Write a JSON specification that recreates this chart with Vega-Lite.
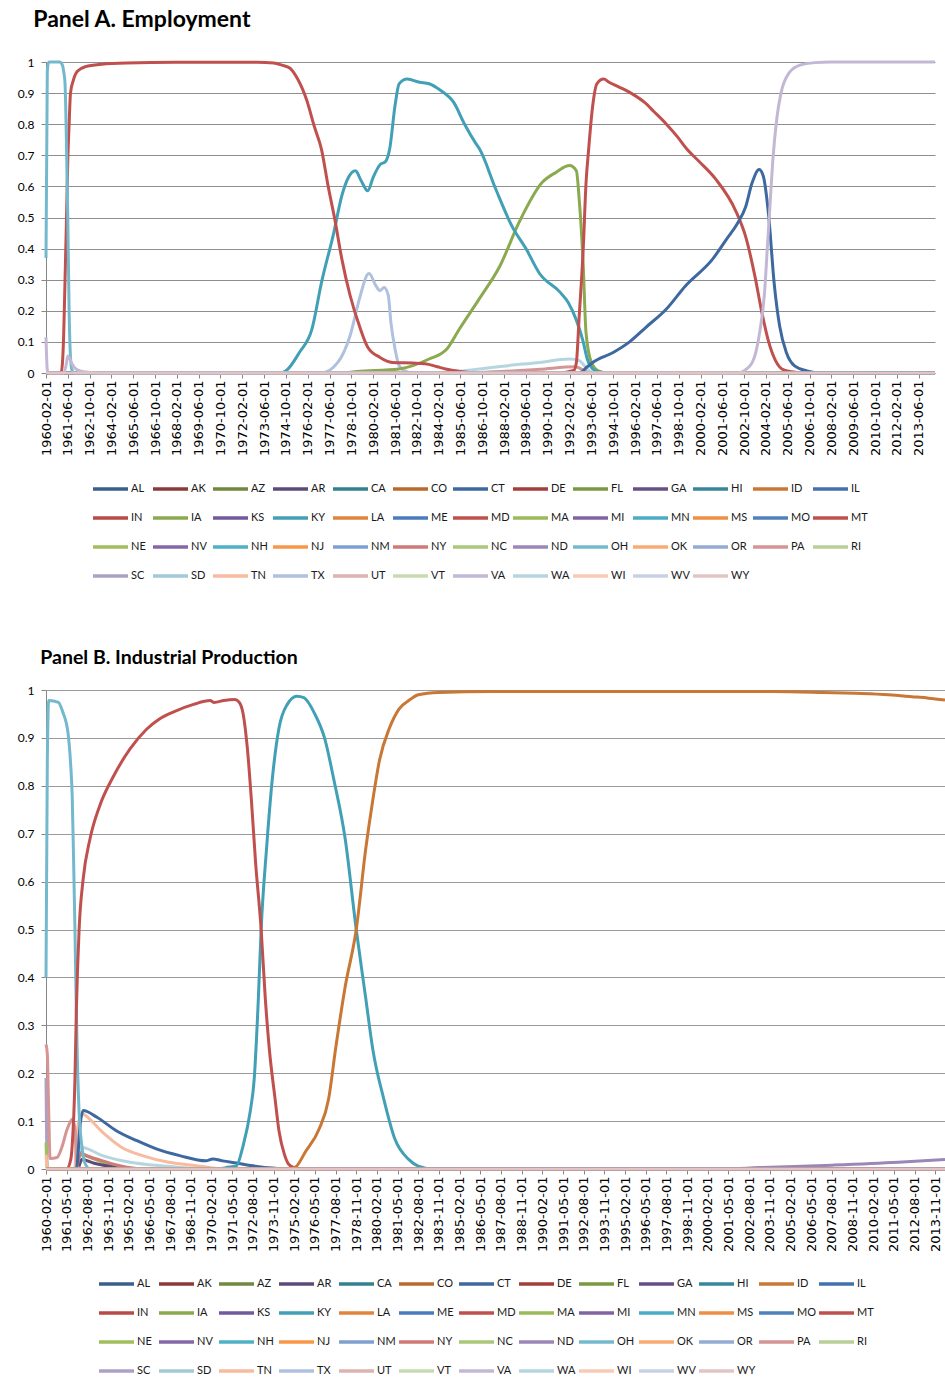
{
  "$schema": "https://vega.github.io/schema/vega-lite/v6.json",
  "padding": {"left": 17, "top": 9, "right": 0, "bottom": 0},
  "background": "white",
  "config": {
    "view": {"stroke": null},
    "title": {"font": "Lato", "fontWeight": "bold", "color": "#000000", "anchor": "start"}
  },
  "resolve": {"scale": {"color": "independent"}, "legend": {"color": "independent"}},
  "spacing": 63,
  "datasets": {
    "emp": [
      {"state":"AL","date":"1960-02-01","value":0},{"state":"AL","date":"2014-06-01","value":0},
      {"state":"AK","date":"1960-02-01","value":0},{"state":"AK","date":"2014-06-01","value":0},
      {"state":"AZ","date":"1960-02-01","value":0},{"state":"AZ","date":"2014-06-01","value":0},
      {"state":"AR","date":"1960-02-01","value":0},{"state":"AR","date":"2014-06-01","value":0},
      {"state":"CA","date":"1960-02-01","value":0},{"state":"CA","date":"2014-06-01","value":0},
      {"state":"CO","date":"1960-02-01","value":0},{"state":"CO","date":"2014-06-01","value":0},
      {"state":"DE","date":"1960-02-01","value":0},{"state":"DE","date":"2014-06-01","value":0},
      {"state":"FL","date":"1960-02-01","value":0},{"state":"FL","date":"2014-06-01","value":0},
      {"state":"GA","date":"1960-02-01","value":0},{"state":"GA","date":"2014-06-01","value":0},
      {"state":"HI","date":"1960-02-01","value":0},{"state":"HI","date":"2014-06-01","value":0},
      {"state":"ID","date":"1960-02-01","value":0},{"state":"ID","date":"2014-06-01","value":0},
      {"state":"IL","date":"1960-02-01","value":0},{"state":"IL","date":"2014-06-01","value":0},
      {"state":"IN","date":"1960-02-01","value":0},{"state":"IN","date":"2014-06-01","value":0},
      {"state":"KS","date":"1960-02-01","value":0},{"state":"KS","date":"2014-06-01","value":0},
      {"state":"LA","date":"1960-02-01","value":0},{"state":"LA","date":"2014-06-01","value":0},
      {"state":"ME","date":"1960-02-01","value":0},{"state":"ME","date":"2014-06-01","value":0},
      {"state":"MA","date":"1960-02-01","value":0},{"state":"MA","date":"2014-06-01","value":0},
      {"state":"MI","date":"1960-02-01","value":0},{"state":"MI","date":"2014-06-01","value":0},
      {"state":"MN","date":"1960-02-01","value":0},{"state":"MN","date":"2014-06-01","value":0},
      {"state":"MS","date":"1960-02-01","value":0},{"state":"MS","date":"2014-06-01","value":0},
      {"state":"MO","date":"1960-02-01","value":0},{"state":"MO","date":"2014-06-01","value":0},
      {"state":"NE","date":"1960-02-01","value":0},{"state":"NE","date":"2014-06-01","value":0},
      {"state":"NV","date":"1960-02-01","value":0},{"state":"NV","date":"2014-06-01","value":0},
      {"state":"NH","date":"1960-02-01","value":0},{"state":"NH","date":"2014-06-01","value":0},
      {"state":"NJ","date":"1960-02-01","value":0},{"state":"NJ","date":"2014-06-01","value":0},
      {"state":"NM","date":"1960-02-01","value":0},{"state":"NM","date":"2014-06-01","value":0},
      {"state":"NY","date":"1960-02-01","value":0},{"state":"NY","date":"2014-06-01","value":0},
      {"state":"NC","date":"1960-02-01","value":0},{"state":"NC","date":"2014-06-01","value":0},
      {"state":"ND","date":"1960-02-01","value":0},{"state":"ND","date":"2014-06-01","value":0},
      {"state":"OK","date":"1960-02-01","value":0},{"state":"OK","date":"2014-06-01","value":0},
      {"state":"OR","date":"1960-02-01","value":0},{"state":"OR","date":"2014-06-01","value":0},
      {"state":"RI","date":"1960-02-01","value":0},{"state":"RI","date":"2014-06-01","value":0},
      {"state":"SC","date":"1960-02-01","value":0},{"state":"SC","date":"2014-06-01","value":0},
      {"state":"SD","date":"1960-02-01","value":0},{"state":"SD","date":"2014-06-01","value":0},
      {"state":"TN","date":"1960-02-01","value":0},{"state":"TN","date":"2014-06-01","value":0},
      {"state":"UT","date":"1960-02-01","value":0},{"state":"UT","date":"2014-06-01","value":0},
      {"state":"VT","date":"1960-02-01","value":0},{"state":"VT","date":"2014-06-01","value":0},
      {"state":"WI","date":"1960-02-01","value":0},{"state":"WI","date":"2014-06-01","value":0},
      {"state":"WV","date":"1960-02-01","value":0},{"state":"WV","date":"2014-06-01","value":0},
      {"state":"PA","date":"1960-02-01","value":0},{"state":"PA","date":"1985-01-01","value":0},{"state":"PA","date":"1990-04-01","value":0.012},{"state":"PA","date":"1992-06-01","value":0.02},{"state":"PA","date":"1993-02-01","value":0.005},{"state":"PA","date":"1993-06-01","value":0},{"state":"PA","date":"2014-06-01","value":0},
      {"state":"WA","date":"1960-02-01","value":0},{"state":"WA","date":"1984-01-01","value":0},{"state":"WA","date":"1986-08-01","value":0.013},{"state":"WA","date":"1988-01-01","value":0.022},{"state":"WA","date":"1990-04-01","value":0.034},{"state":"WA","date":"1992-02-01","value":0.045},{"state":"WA","date":"1992-09-01","value":0.04},{"state":"WA","date":"1993-03-01","value":0.013},{"state":"WA","date":"1993-08-01","value":0},{"state":"WA","date":"2014-06-01","value":0},
      {"state":"TX","date":"1960-02-01","value":0},{"state":"TX","date":"1976-12-01","value":0},{"state":"TX","date":"1977-12-01","value":0.034},{"state":"TX","date":"1978-09-01","value":0.12},{"state":"TX","date":"1979-04-01","value":0.24},{"state":"TX","date":"1979-10-01","value":0.318},{"state":"TX","date":"1979-11-01","value":0.32},{"state":"TX","date":"1980-04-01","value":0.28},{"state":"TX","date":"1980-07-01","value":0.265},{"state":"TX","date":"1980-10-01","value":0.275},{"state":"TX","date":"1981-01-01","value":0.25},{"state":"TX","date":"1981-03-01","value":0.163},{"state":"TX","date":"1981-06-01","value":0.077},{"state":"TX","date":"1981-09-01","value":0.023},{"state":"TX","date":"1982-01-01","value":0.007},{"state":"TX","date":"1982-07-01","value":0},{"state":"TX","date":"2014-06-01","value":0},
      {"state":"IA","date":"1960-02-01","value":0},{"state":"IA","date":"1978-01-01","value":0},{"state":"IA","date":"1979-02-01","value":0.005},{"state":"IA","date":"1981-09-01","value":0.013},{"state":"IA","date":"1983-07-01","value":0.045},{"state":"IA","date":"1984-08-01","value":0.077},{"state":"IA","date":"1985-05-01","value":0.14},{"state":"IA","date":"1986-08-01","value":0.24},{"state":"IA","date":"1987-11-01","value":0.345},{"state":"IA","date":"1989-01-01","value":0.485},{"state":"IA","date":"1990-06-01","value":0.613},{"state":"IA","date":"1991-04-01","value":0.645},{"state":"IA","date":"1992-02-01","value":0.667},{"state":"IA","date":"1992-07-01","value":0.65},{"state":"IA","date":"1992-09-01","value":0.56},{"state":"IA","date":"1992-12-01","value":0.345},{"state":"IA","date":"1993-02-01","value":0.13},{"state":"IA","date":"1993-06-01","value":0.034},{"state":"IA","date":"1993-11-01","value":0.007},{"state":"IA","date":"1994-06-01","value":0},{"state":"IA","date":"2014-06-01","value":0},
      {"state":"KY","date":"1960-02-01","value":0},{"state":"KY","date":"1974-06-01","value":0},{"state":"KY","date":"1974-10-01","value":0.007},{"state":"KY","date":"1975-08-01","value":0.067},{"state":"KY","date":"1976-05-01","value":0.14},{"state":"KY","date":"1976-12-01","value":0.29},{"state":"KY","date":"1977-09-01","value":0.45},{"state":"KY","date":"1978-03-01","value":0.57},{"state":"KY","date":"1978-08-01","value":0.63},{"state":"KY","date":"1979-01-01","value":0.65},{"state":"KY","date":"1979-05-01","value":0.62},{"state":"KY","date":"1979-10-01","value":0.586},{"state":"KY","date":"1980-02-01","value":0.63},{"state":"KY","date":"1980-07-01","value":0.67},{"state":"KY","date":"1980-11-01","value":0.68},{"state":"KY","date":"1981-02-01","value":0.72},{"state":"KY","date":"1981-06-01","value":0.86},{"state":"KY","date":"1981-09-01","value":0.93},{"state":"KY","date":"1982-03-01","value":0.945},{"state":"KY","date":"1982-12-01","value":0.935},{"state":"KY","date":"1983-07-01","value":0.93},{"state":"KY","date":"1984-03-01","value":0.91},{"state":"KY","date":"1985-01-01","value":0.87},{"state":"KY","date":"1985-09-01","value":0.8},{"state":"KY","date":"1986-05-01","value":0.74},{"state":"KY","date":"1986-08-01","value":0.72},{"state":"KY","date":"1987-08-01","value":0.59},{"state":"KY","date":"1988-08-01","value":0.47},{"state":"KY","date":"1989-06-01","value":0.4},{"state":"KY","date":"1990-04-01","value":0.32},{"state":"KY","date":"1991-07-01","value":0.26},{"state":"KY","date":"1992-01-01","value":0.227},{"state":"KY","date":"1992-07-01","value":0.17},{"state":"KY","date":"1992-12-01","value":0.1},{"state":"KY","date":"1993-03-01","value":0.045},{"state":"KY","date":"1993-07-01","value":0.013},{"state":"KY","date":"1993-11-01","value":0.004},{"state":"KY","date":"1994-06-01","value":0},{"state":"KY","date":"2014-06-01","value":0},
      {"state":"MD","date":"1960-02-01","value":0},{"state":"MD","date":"1961-01-01","value":0},{"state":"MD","date":"1961-02-01","value":0.03},{"state":"MD","date":"1961-03-01","value":0.12},{"state":"MD","date":"1961-04-01","value":0.3},{"state":"MD","date":"1961-05-01","value":0.48},{"state":"MD","date":"1961-06-01","value":0.68},{"state":"MD","date":"1961-07-01","value":0.8},{"state":"MD","date":"1961-08-01","value":0.9},{"state":"MD","date":"1961-10-01","value":0.94},{"state":"MD","date":"1962-01-01","value":0.97},{"state":"MD","date":"1962-07-01","value":0.985},{"state":"MD","date":"1963-07-01","value":0.993},{"state":"MD","date":"1965-01-01","value":0.997},{"state":"MD","date":"1968-01-01","value":0.999},{"state":"MD","date":"1973-01-01","value":0.999},{"state":"MD","date":"1974-01-01","value":0.997},{"state":"MD","date":"1974-07-01","value":0.99},{"state":"MD","date":"1975-01-01","value":0.98},{"state":"MD","date":"1975-06-01","value":0.95},{"state":"MD","date":"1976-01-01","value":0.88},{"state":"MD","date":"1976-07-01","value":0.79},{"state":"MD","date":"1976-12-01","value":0.72},{"state":"MD","date":"1977-05-01","value":0.6},{"state":"MD","date":"1977-10-01","value":0.49},{"state":"MD","date":"1978-03-01","value":0.367},{"state":"MD","date":"1978-09-01","value":0.25},{"state":"MD","date":"1979-04-01","value":0.15},{"state":"MD","date":"1979-10-01","value":0.083},{"state":"MD","date":"1980-07-01","value":0.05},{"state":"MD","date":"1981-04-01","value":0.034},{"state":"MD","date":"1982-07-01","value":0.032},{"state":"MD","date":"1983-04-01","value":0.03},{"state":"MD","date":"1984-01-01","value":0.02},{"state":"MD","date":"1984-07-01","value":0.013},{"state":"MD","date":"1985-06-01","value":0.005},{"state":"MD","date":"1986-06-01","value":0},{"state":"MD","date":"2014-06-01","value":0},
      {"state":"MT","date":"1960-02-01","value":0},{"state":"MT","date":"1991-06-01","value":0},{"state":"MT","date":"1992-05-01","value":0.008},{"state":"MT","date":"1992-07-01","value":0.034},{"state":"MT","date":"1992-09-01","value":0.18},{"state":"MT","date":"1992-12-01","value":0.4},{"state":"MT","date":"1993-02-01","value":0.61},{"state":"MT","date":"1993-04-01","value":0.72},{"state":"MT","date":"1993-07-01","value":0.86},{"state":"MT","date":"1993-10-01","value":0.93},{"state":"MT","date":"1994-03-01","value":0.945},{"state":"MT","date":"1994-07-01","value":0.935},{"state":"MT","date":"1995-02-01","value":0.92},{"state":"MT","date":"1995-11-01","value":0.9},{"state":"MT","date":"1996-09-01","value":0.87},{"state":"MT","date":"1997-04-01","value":0.84},{"state":"MT","date":"1998-01-01","value":0.8},{"state":"MT","date":"1998-09-01","value":0.76},{"state":"MT","date":"1999-04-01","value":0.72},{"state":"MT","date":"2000-01-01","value":0.68},{"state":"MT","date":"2001-01-01","value":0.624},{"state":"MT","date":"2002-04-01","value":0.52},{"state":"MT","date":"2002-11-01","value":0.44},{"state":"MT","date":"2003-06-01","value":0.31},{"state":"MT","date":"2003-11-01","value":0.195},{"state":"MT","date":"2004-04-01","value":0.1},{"state":"MT","date":"2004-09-01","value":0.04},{"state":"MT","date":"2005-03-01","value":0.01},{"state":"MT","date":"2005-09-01","value":0.004},{"state":"MT","date":"2006-06-01","value":0},{"state":"MT","date":"2014-06-01","value":0},
      {"state":"CT","date":"1960-02-01","value":0},{"state":"CT","date":"1992-09-01","value":0},{"state":"CT","date":"1993-03-01","value":0.02},{"state":"CT","date":"1993-07-01","value":0.034},{"state":"CT","date":"1994-10-01","value":0.066},{"state":"CT","date":"1995-10-01","value":0.1},{"state":"CT","date":"1996-10-01","value":0.147},{"state":"CT","date":"1998-01-01","value":0.206},{"state":"CT","date":"1999-03-01","value":0.28},{"state":"CT","date":"2000-11-01","value":0.367},{"state":"CT","date":"2001-09-01","value":0.43},{"state":"CT","date":"2002-05-01","value":0.48},{"state":"CT","date":"2002-11-01","value":0.533},{"state":"CT","date":"2003-04-01","value":0.613},{"state":"CT","date":"2003-09-01","value":0.654},{"state":"CT","date":"2003-12-01","value":0.634},{"state":"CT","date":"2004-04-01","value":0.506},{"state":"CT","date":"2004-08-01","value":0.29},{"state":"CT","date":"2004-12-01","value":0.152},{"state":"CT","date":"2005-05-01","value":0.066},{"state":"CT","date":"2005-11-01","value":0.023},{"state":"CT","date":"2006-08-01","value":0.007},{"state":"CT","date":"2007-06-01","value":0},{"state":"CT","date":"2014-06-01","value":0},
      {"state":"OH","date":"1960-02-01","value":0.37},{"state":"OH","date":"1960-03-01","value":0.97},{"state":"OH","date":"1960-04-01","value":1},{"state":"OH","date":"1960-12-01","value":1},{"state":"OH","date":"1961-02-01","value":0.99},{"state":"OH","date":"1961-03-01","value":0.97},{"state":"OH","date":"1961-04-01","value":0.93},{"state":"OH","date":"1961-05-01","value":0.75},{"state":"OH","date":"1961-06-01","value":0.5},{"state":"OH","date":"1961-07-01","value":0.2},{"state":"OH","date":"1961-08-01","value":0.05},{"state":"OH","date":"1961-09-01","value":0.01},{"state":"OH","date":"1961-11-01","value":0},{"state":"OH","date":"2014-06-01","value":0},
      {"state":"VA","date":"1960-02-01","value":0.115},{"state":"VA","date":"1960-03-01","value":0.01},{"state":"VA","date":"1960-04-01","value":0},{"state":"VA","date":"1961-03-01","value":0},{"state":"VA","date":"1961-05-01","value":0.03},{"state":"VA","date":"1961-06-01","value":0.055},{"state":"VA","date":"1961-07-01","value":0.05},{"state":"VA","date":"1961-09-01","value":0.03},{"state":"VA","date":"1962-01-01","value":0.01},{"state":"VA","date":"1962-07-01","value":0.003},{"state":"VA","date":"1963-06-01","value":0},{"state":"VA","date":"2002-06-01","value":0},{"state":"VA","date":"2002-09-01","value":0.005},{"state":"VA","date":"2003-04-01","value":0.034},{"state":"VA","date":"2003-09-01","value":0.12},{"state":"VA","date":"2004-01-01","value":0.26},{"state":"VA","date":"2004-03-01","value":0.4},{"state":"VA","date":"2004-05-01","value":0.54},{"state":"VA","date":"2004-07-01","value":0.68},{"state":"VA","date":"2004-10-01","value":0.82},{"state":"VA","date":"2005-01-01","value":0.9},{"state":"VA","date":"2005-07-01","value":0.965},{"state":"VA","date":"2006-03-01","value":0.99},{"state":"VA","date":"2007-02-01","value":0.998},{"state":"VA","date":"2008-01-01","value":1},{"state":"VA","date":"2014-06-01","value":1},
      {"state":"WY","date":"1960-02-01","value":0},{"state":"WY","date":"2014-06-01","value":0}
    ],
    "ip": [
      {"state":"AL","date":"1960-02-01","value":0},{"state":"AL","date":"2014-06-01","value":0},
      {"state":"AK","date":"1960-02-01","value":0},{"state":"AK","date":"2014-06-01","value":0},
      {"state":"AZ","date":"1960-02-01","value":0},{"state":"AZ","date":"2014-06-01","value":0},
      {"state":"CA","date":"1960-02-01","value":0},{"state":"CA","date":"2014-06-01","value":0},
      {"state":"CO","date":"1960-02-01","value":0},{"state":"CO","date":"2014-06-01","value":0},
      {"state":"DE","date":"1960-02-01","value":0},{"state":"DE","date":"2014-06-01","value":0},
      {"state":"FL","date":"1960-02-01","value":0},{"state":"FL","date":"2014-06-01","value":0},
      {"state":"GA","date":"1960-02-01","value":0},{"state":"GA","date":"2014-06-01","value":0},
      {"state":"HI","date":"1960-02-01","value":0},{"state":"HI","date":"2014-06-01","value":0},
      {"state":"IL","date":"1960-02-01","value":0},{"state":"IL","date":"2014-06-01","value":0},
      {"state":"IN","date":"1960-02-01","value":0},{"state":"IN","date":"2014-06-01","value":0},
      {"state":"IA","date":"1960-02-01","value":0},{"state":"IA","date":"2014-06-01","value":0},
      {"state":"KS","date":"1960-02-01","value":0},{"state":"KS","date":"2014-06-01","value":0},
      {"state":"LA","date":"1960-02-01","value":0},{"state":"LA","date":"2014-06-01","value":0},
      {"state":"ME","date":"1960-02-01","value":0},{"state":"ME","date":"2014-06-01","value":0},
      {"state":"MA","date":"1960-02-01","value":0},{"state":"MA","date":"2014-06-01","value":0},
      {"state":"MI","date":"1960-02-01","value":0},{"state":"MI","date":"2014-06-01","value":0},
      {"state":"MN","date":"1960-02-01","value":0},{"state":"MN","date":"2014-06-01","value":0},
      {"state":"MS","date":"1960-02-01","value":0},{"state":"MS","date":"2014-06-01","value":0},
      {"state":"MO","date":"1960-02-01","value":0},{"state":"MO","date":"2014-06-01","value":0},
      {"state":"MT","date":"1960-02-01","value":0},{"state":"MT","date":"2014-06-01","value":0},
      {"state":"NV","date":"1960-02-01","value":0},{"state":"NV","date":"2014-06-01","value":0},
      {"state":"NH","date":"1960-02-01","value":0},{"state":"NH","date":"2014-06-01","value":0},
      {"state":"NJ","date":"1960-02-01","value":0},{"state":"NJ","date":"2014-06-01","value":0},
      {"state":"NM","date":"1960-02-01","value":0},{"state":"NM","date":"2014-06-01","value":0},
      {"state":"NC","date":"1960-02-01","value":0},{"state":"NC","date":"2014-06-01","value":0},
      {"state":"OK","date":"1960-02-01","value":0},{"state":"OK","date":"2014-06-01","value":0},
      {"state":"OR","date":"1960-02-01","value":0},{"state":"OR","date":"2014-06-01","value":0},
      {"state":"RI","date":"1960-02-01","value":0},{"state":"RI","date":"2014-06-01","value":0},
      {"state":"SD","date":"1960-02-01","value":0},{"state":"SD","date":"2014-06-01","value":0},
      {"state":"TX","date":"1960-02-01","value":0},{"state":"TX","date":"2014-06-01","value":0},
      {"state":"UT","date":"1960-02-01","value":0},{"state":"UT","date":"2014-06-01","value":0},
      {"state":"VT","date":"1960-02-01","value":0},{"state":"VT","date":"2014-06-01","value":0},
      {"state":"VA","date":"1960-02-01","value":0},{"state":"VA","date":"2014-06-01","value":0},
      {"state":"WI","date":"1960-02-01","value":0},{"state":"WI","date":"2014-06-01","value":0},
      {"state":"WV","date":"1960-02-01","value":0},{"state":"WV","date":"2014-06-01","value":0},
      {"state":"SC","date":"1960-02-01","value":0.19},{"state":"SC","date":"1960-03-01","value":0},{"state":"SC","date":"2014-06-01","value":0},
      {"state":"NE","date":"1960-02-01","value":0.055},{"state":"NE","date":"1960-03-01","value":0},{"state":"NE","date":"1961-12-01","value":0},{"state":"NE","date":"1962-03-01","value":0.03},{"state":"NE","date":"1962-06-01","value":0.028},{"state":"NE","date":"1963-06-01","value":0.015},{"state":"NE","date":"1964-06-01","value":0.006},{"state":"NE","date":"1965-06-01","value":0},{"state":"NE","date":"2014-06-01","value":0},
      {"state":"AR","date":"1960-02-01","value":0},{"state":"AR","date":"1962-01-01","value":0},{"state":"AR","date":"1962-04-01","value":0.02},{"state":"AR","date":"1963-01-01","value":0.012},{"state":"AR","date":"1964-01-01","value":0.005},{"state":"AR","date":"1965-01-01","value":0},{"state":"AR","date":"2014-06-01","value":0},
      {"state":"NY","date":"1960-02-01","value":0},{"state":"NY","date":"1961-12-01","value":0},{"state":"NY","date":"1962-03-01","value":0.035},{"state":"NY","date":"1962-06-01","value":0.03},{"state":"NY","date":"1963-06-01","value":0.018},{"state":"NY","date":"1964-06-01","value":0.008},{"state":"NY","date":"1966-01-01","value":0},{"state":"NY","date":"2014-06-01","value":0},
      {"state":"WA","date":"1960-02-01","value":0},{"state":"WA","date":"1961-11-01","value":0},{"state":"WA","date":"1962-01-01","value":0.03},{"state":"WA","date":"1962-04-01","value":0.045},{"state":"WA","date":"1963-07-01","value":0.028},{"state":"WA","date":"1965-03-01","value":0.014},{"state":"WA","date":"1967-06-01","value":0.006},{"state":"WA","date":"1970-01-01","value":0},{"state":"WA","date":"2014-06-01","value":0},
      {"state":"TN","date":"1960-02-01","value":0.03},{"state":"TN","date":"1960-03-01","value":0},{"state":"TN","date":"1961-10-01","value":0},{"state":"TN","date":"1961-11-01","value":0.005},{"state":"TN","date":"1961-12-01","value":0.04},{"state":"TN","date":"1962-01-01","value":0.085},{"state":"TN","date":"1962-03-01","value":0.11},{"state":"TN","date":"1962-05-01","value":0.115},{"state":"TN","date":"1962-07-01","value":0.111},{"state":"TN","date":"1963-07-01","value":0.077},{"state":"TN","date":"1964-09-01","value":0.045},{"state":"TN","date":"1965-12-01","value":0.028},{"state":"TN","date":"1967-07-01","value":0.014},{"state":"TN","date":"1969-03-01","value":0.007},{"state":"TN","date":"1971-01-01","value":0},{"state":"TN","date":"2014-06-01","value":0},
      {"state":"PA","date":"1960-02-01","value":0.26},{"state":"PA","date":"1960-03-01","value":0.24},{"state":"PA","date":"1960-04-01","value":0.12},{"state":"PA","date":"1960-05-01","value":0.022},{"state":"PA","date":"1960-10-01","value":0.024},{"state":"PA","date":"1961-02-01","value":0.05},{"state":"PA","date":"1961-05-01","value":0.08},{"state":"PA","date":"1961-08-01","value":0.1},{"state":"PA","date":"1961-09-01","value":0.104},{"state":"PA","date":"1961-10-01","value":0.098},{"state":"PA","date":"1961-11-01","value":0.085},{"state":"PA","date":"1961-12-01","value":0.02},{"state":"PA","date":"1962-01-01","value":0.005},{"state":"PA","date":"1962-03-01","value":0},{"state":"PA","date":"2014-06-01","value":0},
      {"state":"CT","date":"1960-02-01","value":0},{"state":"CT","date":"1961-12-01","value":0},{"state":"CT","date":"1962-03-01","value":0.097},{"state":"CT","date":"1962-05-01","value":0.122},{"state":"CT","date":"1963-03-01","value":0.108},{"state":"CT","date":"1964-05-01","value":0.08},{"state":"CT","date":"1965-08-01","value":0.059},{"state":"CT","date":"1966-10-01","value":0.042},{"state":"CT","date":"1968-03-01","value":0.028},{"state":"CT","date":"1969-10-01","value":0.017},{"state":"CT","date":"1970-03-01","value":0.021},{"state":"CT","date":"1970-10-01","value":0.017},{"state":"CT","date":"1971-08-01","value":0.0125},{"state":"CT","date":"1972-10-01","value":0.006},{"state":"CT","date":"1973-10-01","value":0.002},{"state":"CT","date":"1974-10-01","value":0},{"state":"CT","date":"2014-06-01","value":0},
      {"state":"ND","date":"1960-02-01","value":0},{"state":"ND","date":"2001-01-01","value":0},{"state":"ND","date":"2003-03-01","value":0.003},{"state":"ND","date":"2007-08-01","value":0.008},{"state":"ND","date":"2011-08-01","value":0.014},{"state":"ND","date":"2014-06-01","value":0.02},
      {"state":"OH","date":"1960-02-01","value":0.4},{"state":"OH","date":"1960-03-01","value":0.85},{"state":"OH","date":"1960-04-01","value":0.978},{"state":"OH","date":"1960-11-01","value":0.974},{"state":"OH","date":"1961-02-01","value":0.955},{"state":"OH","date":"1961-06-01","value":0.91},{"state":"OH","date":"1961-08-01","value":0.84},{"state":"OH","date":"1961-09-01","value":0.78},{"state":"OH","date":"1961-10-01","value":0.65},{"state":"OH","date":"1961-11-01","value":0.5},{"state":"OH","date":"1961-12-01","value":0.33},{"state":"OH","date":"1962-01-01","value":0.2},{"state":"OH","date":"1962-02-01","value":0.118},{"state":"OH","date":"1962-04-01","value":0.049},{"state":"OH","date":"1962-06-01","value":0.014},{"state":"OH","date":"1962-10-01","value":0},{"state":"OH","date":"2014-06-01","value":0},
      {"state":"KY","date":"1960-02-01","value":0},{"state":"KY","date":"1970-06-01","value":0},{"state":"KY","date":"1971-03-01","value":0.004},{"state":"KY","date":"1971-08-01","value":0.006},{"state":"KY","date":"1972-01-01","value":0.049},{"state":"KY","date":"1972-06-01","value":0.118},{"state":"KY","date":"1972-09-01","value":0.188},{"state":"KY","date":"1972-12-01","value":0.355},{"state":"KY","date":"1973-02-01","value":0.5},{"state":"KY","date":"1973-06-01","value":0.67},{"state":"KY","date":"1973-10-01","value":0.81},{"state":"KY","date":"1974-03-01","value":0.92},{"state":"KY","date":"1974-09-01","value":0.97},{"state":"KY","date":"1975-04-01","value":0.987},{"state":"KY","date":"1975-09-01","value":0.984},{"state":"KY","date":"1976-05-01","value":0.95},{"state":"KY","date":"1976-12-01","value":0.9},{"state":"KY","date":"1977-07-01","value":0.81},{"state":"KY","date":"1978-03-01","value":0.69},{"state":"KY","date":"1978-11-01","value":0.5},{"state":"KY","date":"1979-06-01","value":0.355},{"state":"KY","date":"1979-11-01","value":0.25},{"state":"KY","date":"1980-07-01","value":0.146},{"state":"KY","date":"1981-03-01","value":0.063},{"state":"KY","date":"1982-01-01","value":0.02},{"state":"KY","date":"1982-08-01","value":0.006},{"state":"KY","date":"1983-07-01","value":0},{"state":"KY","date":"2014-06-01","value":0},
      {"state":"MD","date":"1960-02-01","value":0},{"state":"MD","date":"1961-05-01","value":0},{"state":"MD","date":"1961-08-01","value":0.02},{"state":"MD","date":"1961-09-01","value":0.049},{"state":"MD","date":"1961-11-01","value":0.188},{"state":"MD","date":"1961-12-01","value":0.327},{"state":"MD","date":"1962-02-01","value":0.5},{"state":"MD","date":"1962-05-01","value":0.605},{"state":"MD","date":"1962-10-01","value":0.69},{"state":"MD","date":"1963-05-01","value":0.758},{"state":"MD","date":"1964-03-01","value":0.82},{"state":"MD","date":"1965-03-01","value":0.877},{"state":"MD","date":"1966-03-01","value":0.918},{"state":"MD","date":"1966-12-01","value":0.939},{"state":"MD","date":"1967-11-01","value":0.955},{"state":"MD","date":"1969-01-01","value":0.97},{"state":"MD","date":"1970-01-01","value":0.978},{"state":"MD","date":"1970-04-01","value":0.974},{"state":"MD","date":"1970-11-01","value":0.978},{"state":"MD","date":"1971-07-01","value":0.98},{"state":"MD","date":"1971-10-01","value":0.975},{"state":"MD","date":"1972-01-01","value":0.95},{"state":"MD","date":"1972-04-01","value":0.88},{"state":"MD","date":"1972-07-01","value":0.77},{"state":"MD","date":"1972-10-01","value":0.64},{"state":"MD","date":"1973-02-01","value":0.5},{"state":"MD","date":"1973-05-01","value":0.36},{"state":"MD","date":"1973-08-01","value":0.25},{"state":"MD","date":"1973-12-01","value":0.15},{"state":"MD","date":"1974-03-01","value":0.08},{"state":"MD","date":"1974-07-01","value":0.03},{"state":"MD","date":"1974-10-01","value":0.01},{"state":"MD","date":"1975-02-01","value":0.003},{"state":"MD","date":"1975-09-01","value":0},{"state":"MD","date":"2014-06-01","value":0},
      {"state":"ID","date":"1960-02-01","value":0},{"state":"ID","date":"1974-10-01","value":0},{"state":"ID","date":"1975-03-01","value":0.004},{"state":"ID","date":"1975-10-01","value":0.035},{"state":"ID","date":"1976-08-01","value":0.083},{"state":"ID","date":"1977-03-01","value":0.146},{"state":"ID","date":"1977-08-01","value":0.25},{"state":"ID","date":"1978-03-01","value":0.38},{"state":"ID","date":"1978-11-01","value":0.5},{"state":"ID","date":"1979-06-01","value":0.67},{"state":"ID","date":"1979-11-01","value":0.77},{"state":"ID","date":"1980-04-01","value":0.855},{"state":"ID","date":"1980-11-01","value":0.92},{"state":"ID","date":"1981-06-01","value":0.96},{"state":"ID","date":"1982-02-01","value":0.98},{"state":"ID","date":"1982-08-01","value":0.99},{"state":"ID","date":"1983-11-01","value":0.995},{"state":"ID","date":"1987-01-01","value":0.997},{"state":"ID","date":"2004-01-01","value":0.997},{"state":"ID","date":"2007-01-01","value":0.995},{"state":"ID","date":"2009-01-01","value":0.993},{"state":"ID","date":"2011-01-01","value":0.99},{"state":"ID","date":"2012-06-01","value":0.986},{"state":"ID","date":"2013-06-01","value":0.983},{"state":"ID","date":"2014-06-01","value":0.979},
      {"state":"WY","date":"1960-02-01","value":0},{"state":"WY","date":"2014-06-01","value":0}
    ]
  },
  "vconcat": [
    {
      "title": {"text": "Panel A. Employment", "fontSize": 23, "dx": 16, "offset": 24},
      "width": 889,
      "height": 311,
      "data": {"name": "emp"},
      "mark": {"type": "line", "interpolate": "monotone", "strokeWidth": 3},
      "encoding": {
        "x": {
          "field": "date", "type": "temporal",
          "scale": {"type": "utc", "domain": [{"year":1960,"month":2,"date":1,"utc":true},{"year":2014,"month":6,"date":1,"utc":true}]},
          "axis": {
            "title": null, "grid": false, "labelAngle": -90, "labelFlush": false, "labelOverlap": false,
            "labelExpr": "utcFormat(datum.value, '%Y-%m-%d')",
            "labelFont": "DejaVu Sans", "labelFontSize": 13, "labelColor": "#000000", "labelPadding": 2,
            "tickSize": 5, "tickColor": "#868686", "domainColor": "#868686",
            "values": [
              {"year":1960,"month":2,"date":1,"utc":true},{"year":1961,"month":6,"date":1,"utc":true},{"year":1962,"month":10,"date":1,"utc":true},
              {"year":1964,"month":2,"date":1,"utc":true},{"year":1965,"month":6,"date":1,"utc":true},{"year":1966,"month":10,"date":1,"utc":true},
              {"year":1968,"month":2,"date":1,"utc":true},{"year":1969,"month":6,"date":1,"utc":true},{"year":1970,"month":10,"date":1,"utc":true},
              {"year":1972,"month":2,"date":1,"utc":true},{"year":1973,"month":6,"date":1,"utc":true},{"year":1974,"month":10,"date":1,"utc":true},
              {"year":1976,"month":2,"date":1,"utc":true},{"year":1977,"month":6,"date":1,"utc":true},{"year":1978,"month":10,"date":1,"utc":true},
              {"year":1980,"month":2,"date":1,"utc":true},{"year":1981,"month":6,"date":1,"utc":true},{"year":1982,"month":10,"date":1,"utc":true},
              {"year":1984,"month":2,"date":1,"utc":true},{"year":1985,"month":6,"date":1,"utc":true},{"year":1986,"month":10,"date":1,"utc":true},
              {"year":1988,"month":2,"date":1,"utc":true},{"year":1989,"month":6,"date":1,"utc":true},{"year":1990,"month":10,"date":1,"utc":true},
              {"year":1992,"month":2,"date":1,"utc":true},{"year":1993,"month":6,"date":1,"utc":true},{"year":1994,"month":10,"date":1,"utc":true},
              {"year":1996,"month":2,"date":1,"utc":true},{"year":1997,"month":6,"date":1,"utc":true},{"year":1998,"month":10,"date":1,"utc":true},
              {"year":2000,"month":2,"date":1,"utc":true},{"year":2001,"month":6,"date":1,"utc":true},{"year":2002,"month":10,"date":1,"utc":true},
              {"year":2004,"month":2,"date":1,"utc":true},{"year":2005,"month":6,"date":1,"utc":true},{"year":2006,"month":10,"date":1,"utc":true},
              {"year":2008,"month":2,"date":1,"utc":true},{"year":2009,"month":6,"date":1,"utc":true},{"year":2010,"month":10,"date":1,"utc":true},
              {"year":2012,"month":2,"date":1,"utc":true},{"year":2013,"month":6,"date":1,"utc":true}
            ]
          }
        },
        "y": {
          "field": "value", "type": "quantitative",
          "scale": {"domain": [0, 1], "nice": false},
          "axis": {
            "title": null, "values": [0,0.1,0.2,0.3,0.4,0.5,0.6,0.7,0.8,0.9,1], "format": "~g",
            "grid": true, "gridColor": "#8E8E8E", "gridWidth": 1,
            "domainColor": "#868686", "tickColor": "#868686", "tickSize": 5,
            "labelFont": "Lato", "labelFontSize": 12, "labelColor": "#000000", "labelPadding": 7
          }
        },
        "color": {
          "field": "state", "type": "nominal",
          "scale": {
            "domain": ["AL","AK","AZ","AR","CA","CO","CT","DE","FL","GA","HI","ID","IL","IN","IA","KS","KY","LA","ME","MD","MA","MI","MN","MS","MO","MT","NE","NV","NH","NJ","NM","NY","NC","ND","OH","OK","OR","PA","RI","SC","SD","TN","TX","UT","VT","VA","WA","WI","WV","WY"],
            "range": ["#3A5F8B","#8C3A38","#71893F","#5D4A79","#33808F","#B86A2E","#3E68A0","#A33E3B","#7A9844","#654F87","#37879C","#C97734","#4370AE","#B84A47","#8BAA4F","#72599E","#41A0B6","#E0843E","#4A7BBE","#C0504D","#9BBB59","#8064A2","#4BACC6","#EF8E45","#4F81BD","#C0504D","#A0BE5E","#8467A8","#4FB0C8","#F89747","#7F9FD1","#D07A78","#AAC879","#9A87B8","#74B8CE","#F9AB74","#94ABD5","#D49594","#B8CF98","#ACA0C4","#A0CAD8","#F8BBA0","#AFC1DF","#DCB3B2","#C8DAB2","#C3B8D4","#B6D6DF","#F9CBB5","#C8D1E4","#E2C4C4"]
          },
          "legend": {
            "title": null, "orient": "none", "legendX": 45, "legendY": 419, "columns": 13, "direction": "horizontal",
            "symbolLimit": 0,
            "symbolType": "stroke", "symbolSize": 1225, "symbolStrokeWidth": 3.5,
            "labelFont": "Lato", "labelFontSize": 11, "labelColor": "#1A1A1A", "labelOffset": 1,
            "columnPadding": 0, "rowPadding": 13, "gridAlign": "all", "clipHeight": 16
          }
        }
      }
    },
    {
      "title": {"text": "Panel B. Industrial Production", "fontSize": 19.5, "dx": 23, "offset": 16},
      "width": 899,
      "height": 479,
      "data": {"name": "ip"},
      "mark": {"type": "line", "interpolate": "monotone", "strokeWidth": 3},
      "encoding": {
        "x": {
          "field": "date", "type": "temporal",
          "scale": {"type": "utc", "domain": [{"year":1960,"month":2,"date":1,"utc":true},{"year":2014,"month":6,"date":1,"utc":true}]},
          "axis": {
            "title": null, "grid": false, "labelAngle": -90, "labelFlush": false, "labelOverlap": false,
            "labelExpr": "utcFormat(datum.value, '%Y-%m-%d')",
            "labelFont": "DejaVu Sans", "labelFontSize": 13, "labelColor": "#000000", "labelPadding": 2,
            "tickSize": 5, "tickColor": "#868686", "domainColor": "#868686",
            "values": [
              {"year":1960,"month":2,"date":1,"utc":true},{"year":1961,"month":5,"date":1,"utc":true},{"year":1962,"month":8,"date":1,"utc":true},{"year":1963,"month":11,"date":1,"utc":true},
              {"year":1965,"month":2,"date":1,"utc":true},{"year":1966,"month":5,"date":1,"utc":true},{"year":1967,"month":8,"date":1,"utc":true},{"year":1968,"month":11,"date":1,"utc":true},
              {"year":1970,"month":2,"date":1,"utc":true},{"year":1971,"month":5,"date":1,"utc":true},{"year":1972,"month":8,"date":1,"utc":true},{"year":1973,"month":11,"date":1,"utc":true},
              {"year":1975,"month":2,"date":1,"utc":true},{"year":1976,"month":5,"date":1,"utc":true},{"year":1977,"month":8,"date":1,"utc":true},{"year":1978,"month":11,"date":1,"utc":true},
              {"year":1980,"month":2,"date":1,"utc":true},{"year":1981,"month":5,"date":1,"utc":true},{"year":1982,"month":8,"date":1,"utc":true},{"year":1983,"month":11,"date":1,"utc":true},
              {"year":1985,"month":2,"date":1,"utc":true},{"year":1986,"month":5,"date":1,"utc":true},{"year":1987,"month":8,"date":1,"utc":true},{"year":1988,"month":11,"date":1,"utc":true},
              {"year":1990,"month":2,"date":1,"utc":true},{"year":1991,"month":5,"date":1,"utc":true},{"year":1992,"month":8,"date":1,"utc":true},{"year":1993,"month":11,"date":1,"utc":true},
              {"year":1995,"month":2,"date":1,"utc":true},{"year":1996,"month":5,"date":1,"utc":true},{"year":1997,"month":8,"date":1,"utc":true},{"year":1998,"month":11,"date":1,"utc":true},
              {"year":2000,"month":2,"date":1,"utc":true},{"year":2001,"month":5,"date":1,"utc":true},{"year":2002,"month":8,"date":1,"utc":true},{"year":2003,"month":11,"date":1,"utc":true},
              {"year":2005,"month":2,"date":1,"utc":true},{"year":2006,"month":5,"date":1,"utc":true},{"year":2007,"month":8,"date":1,"utc":true},{"year":2008,"month":11,"date":1,"utc":true},
              {"year":2010,"month":2,"date":1,"utc":true},{"year":2011,"month":5,"date":1,"utc":true},{"year":2012,"month":8,"date":1,"utc":true},{"year":2013,"month":11,"date":1,"utc":true}
            ]
          }
        },
        "y": {
          "field": "value", "type": "quantitative",
          "scale": {"domain": [0, 1], "nice": false},
          "axis": {
            "title": null, "values": [0,0.1,0.2,0.3,0.4,0.5,0.6,0.7,0.8,0.9,1], "format": "~g",
            "grid": true, "gridColor": "#9A9A9A", "gridWidth": 1,
            "domainColor": "#868686", "tickColor": "#868686", "tickSize": 5,
            "labelFont": "Lato", "labelFontSize": 12, "labelColor": "#000000", "labelPadding": 7
          }
        },
        "color": {
          "field": "state", "type": "nominal",
          "scale": {
            "domain": ["AL","AK","AZ","AR","CA","CO","CT","DE","FL","GA","HI","ID","IL","IN","IA","KS","KY","LA","ME","MD","MA","MI","MN","MS","MO","MT","NE","NV","NH","NJ","NM","NY","NC","ND","OH","OK","OR","PA","RI","SC","SD","TN","TX","UT","VT","VA","WA","WI","WV","WY"],
            "range": ["#3A5F8B","#8C3A38","#71893F","#5D4A79","#33808F","#B86A2E","#3E68A0","#A33E3B","#7A9844","#654F87","#37879C","#C97734","#4370AE","#B84A47","#8BAA4F","#72599E","#41A0B6","#E0843E","#4A7BBE","#C0504D","#9BBB59","#8064A2","#4BACC6","#EF8E45","#4F81BD","#C0504D","#A0BE5E","#8467A8","#4FB0C8","#F89747","#7F9FD1","#D07A78","#AAC879","#9A87B8","#74B8CE","#F9AB74","#94ABD5","#D49594","#B8CF98","#ACA0C4","#A0CAD8","#F8BBA0","#AFC1DF","#DCB3B2","#C8DAB2","#C3B8D4","#B6D6DF","#F9CBB5","#C8D1E4","#E2C4C4"]
          },
          "legend": {
            "title": null, "orient": "none", "legendX": 51, "legendY": 586, "columns": 13, "direction": "horizontal",
            "symbolLimit": 0,
            "symbolType": "stroke", "symbolSize": 1225, "symbolStrokeWidth": 3.5,
            "labelFont": "Lato", "labelFontSize": 11, "labelColor": "#1A1A1A", "labelOffset": 1,
            "columnPadding": 0, "rowPadding": 13, "gridAlign": "all", "clipHeight": 16
          }
        }
      }
    }
  ]
}
